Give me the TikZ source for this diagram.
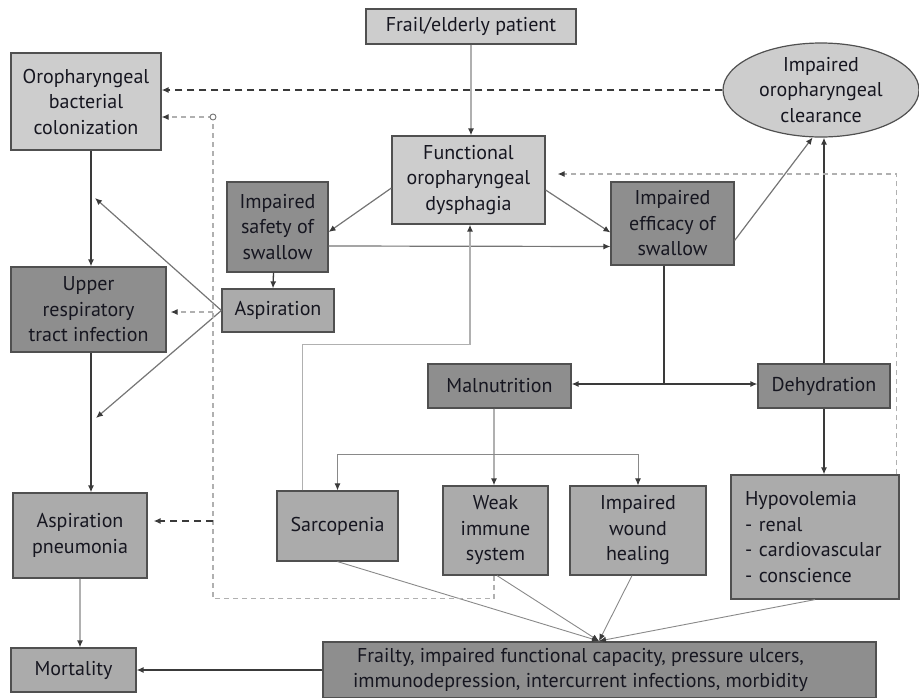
\documentclass[tikz,border=0pt]{standalone}
\usepackage{fontspec}
\setmainfont{PT Sans}
\usetikzlibrary{shapes.geometric,arrows.meta,calc}
\definecolor{lg}{HTML}{CDCDCD}
\definecolor{mg}{HTML}{ABABAB}
\definecolor{dg}{HTML}{8E8E8E}
\definecolor{bd}{HTML}{505050}
\definecolor{tx}{HTML}{161620}
\definecolor{ln}{HTML}{3A3A3A}
\definecolor{lt}{HTML}{B0B0B0}
\begin{document}
\begin{tikzpicture}[x=1pt,y=-1pt,
  box/.style={draw=bd, line width=1.2pt, inner sep=0pt, align=center, text=tx,
    font=\fontsize{20}{25.5}\selectfont},
  txt/.style={inner sep=0pt, align=center, text=tx, font=\fontsize{20}{25.5}\selectfont},
  tip/.style={-{Latex[length=7pt,width=6pt,color=ln]}},
  dk/.style={draw=ln, line width=1.3pt},
  md/.style={draw=ln!70, line width=1.2pt},
  lite/.style={draw=lt, line width=1.4pt},
  thinl/.style={draw=ln!60, line width=0.9pt},
  ltdash/.style={draw=lt, line width=1.2pt, dash pattern=on 5pt off 4pt},
  dkdash/.style={draw=ln, line width=1.4pt, dash pattern=on 7pt off 5pt}]
\useasboundingbox (0,0) rectangle (919,697);

% nodes
\node[box, fill=lg, minimum width=210pt, minimum height=35pt] (frail) at (471,26.5) {Frail/elderly patient};
\node[box, fill=lg, minimum width=150pt, minimum height=97pt] (col) at (86,101.5) {Oropharyngeal\\bacterial\\colonization};
\node[box, ellipse, fill=lg, minimum width=196pt, minimum height=94pt] (ell) at (821,90) {Impaired\\oropharyngeal\\clearance};
\node[box, fill=lg, minimum width=153pt, minimum height=88pt] (fod) at (468.5,180) {Functional\\oropharyngeal\\dysphagia};
\node[box, fill=dg, minimum width=101pt, minimum height=90pt] (saf) at (277.5,227) {Impaired\\safety of\\swallow};
\node[box, fill=dg, minimum width=123pt, minimum height=83pt] (eff) at (672.5,223.5) {Impaired\\efficacy of\\swallow};
\node[box, fill=dg, minimum width=155pt, minimum height=85pt] (urti) at (88.5,309.5) {Upper\\respiratory\\tract infection};
\node[box, fill=mg, minimum width=112pt, minimum height=43pt] (asp) at (278,310.5) {Aspiration};
\node[box, fill=dg, minimum width=143pt, minimum height=44pt] (mal) at (499.5,386) {Malnutrition};
\node[box, fill=dg, minimum width=132pt, minimum height=44pt] (deh) at (824,386) {Dehydration};
\node[box, fill=mg, minimum width=121pt, minimum height=70pt] (sar) at (337.5,526) {Sarcopenia};
\node[box, fill=mg, minimum width=105pt, minimum height=89pt] (weak) at (495.5,530.5) {Weak\\immune\\system};
\node[box, fill=mg, minimum width=136pt, minimum height=89pt] (wound) at (638,530.5) {Impaired\\wound\\healing};
\node[box, fill=mg, minimum width=168pt, minimum height=124pt, align=left, text width=140pt] (hyp) at (815,537) {Hypovolemia\\- renal\\- cardiovascular\\- conscience};
\node[box, fill=mg, minimum width=134pt, minimum height=85pt] (pn) at (80,535.5) {Aspiration\\pneumonia};
\node[box, fill=mg, minimum width=125pt, minimum height=44pt] (mort) at (73.5,670) {Mortality};
\node[box, fill=dg, minimum width=553pt, minimum height=56pt] (fr) at (599.5,670) {};
\node[txt] (frt) at ($(fr.center)+(-19,0)$) {Frailty, impaired functional capacity, pressure ulcers,\\immunodepression, intercurrent infections, morbidity};

% junction coordinates
\coordinate (br) at (664,384);
\coordinate (j1) at (95,198);
\coordinate (j2) at (96,418);
\coordinate (fc) at (599,641);
\coordinate (mj) at (494,454);
\coordinate (cc) at (213,117);
\coordinate (d2) at (213,312);
\coordinate (d3) at (213,521);

% solid connectors
\draw[lite,tip] (frail.south) -- (frail.south |- fod.north);
\draw[md,tip] ($(fod.west)+(0,8)$) -- ($(saf.east)+(0,5)$);
\draw[md,tip] ($(fod.east)+(0,10)$) -- ($(eff.west)+(0,9)$);
\draw[md,tip] ($(saf.east)+(0,19)$) -- ($(eff.west)+(0,23)$);
\draw[dk,tip] ($(saf.south)+(-4,0)$) -- ($(asp.north)+(-5,0)$);
\draw[md,tip] ($(eff.east)+(0,17)$) -- (ell.260);
\draw[dk,tip] (deh.north) -- (deh.north |- ell.south);
\draw[dk] ($(eff.south)+(-8.5,0)$) -- (br);
\draw[dk,tip] (br) -- (br -| mal.east);
\draw[dk,tip] (br) -- (br -| deh.west);
\draw[dk,tip] ($(col.south)+(5,0)$) -- ($(urti.north)+(2.5,0)$);
\draw[md,tip] (asp.west) -- (j1);
\draw[md,tip] (asp.west) -- (j2);
\draw[dk,tip] ($(urti.south)+(2.5,0)$) -- ($(pn.north)+(11,0)$);
\draw[lite,tip] (pn.south) -- (pn.south |- mort.north);
\draw[dk,tip] (fr.west) -- (mort.east);
\draw[lite,tip] ($(sar.north west)+(26,0)$) |- ($(fod.south)+(1.5,120)$) -- ($(fod.south)+(1.5,0)$);
\draw[lite,tip] ($(mal.south)+(-5.5,0)$) -- ($(weak.north)+(-1.5,0)$);
\draw[thinl,tip] (mj) -| (sar.north);
\draw[thinl,tip] (mj) -| (wound.north);
\draw[dk,tip] (deh.south) -- (deh.south |- hyp.north);
\draw[thinl,tip] (sar.south) -- (fc);
\draw[thinl,tip] ($(weak.south)+(1.5,0)$) -- (fc);
\draw[thinl,tip] ($(wound.south)+(-6,0)$) -- (fc);
\draw[thinl,tip] (hyp.south) -- (fc);

% dashed connectors
\draw[dkdash,tip] (ell.west) -- (ell.west -| col.east);
\draw[ltdash] ($(weak.south)+(-1.5,0)$) -- ++(0,23) -| (cc);
\draw[ltdash,tip] (cc) -- (cc -| col.east);
\draw[draw=ln!70, line width=0.9pt, fill=white] (cc) circle (3pt);
\draw[ltdash,tip,shorten >=4pt] (d2) -- (d2 -| urti.east);
\draw[dkdash,tip,shorten >=6pt] (d3) -- (d3 -| pn.east);
\draw[ltdash,tip] ($(hyp.north east)+(-3,0)$) |- ($(fod.east)+(12,-6)$);
\end{tikzpicture}
\end{document}
